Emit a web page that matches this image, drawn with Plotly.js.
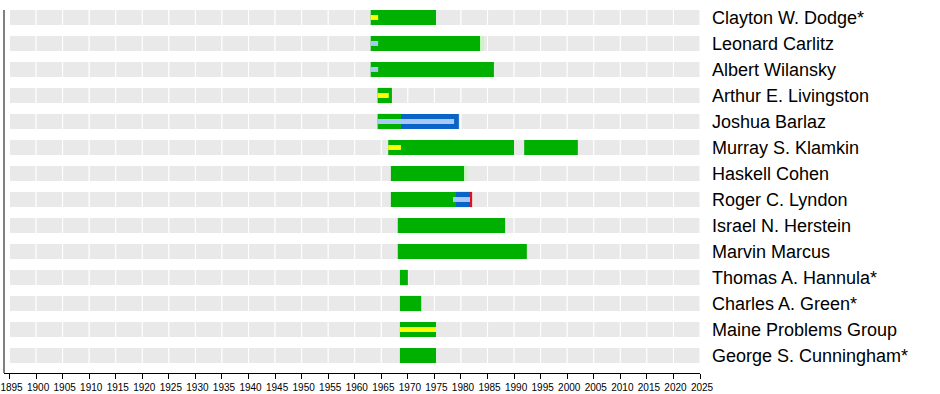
<!DOCTYPE html>
<html>
<head>
<meta charset="utf-8">
<script src="https://cdn.plot.ly/plotly-3.0.1.min.js"></script>
<style>
html,body{margin:0;padding:0;background:#fff;}
#chart{width:940px;height:394px;}
</style>
</head>
<body>
<div id="chart"></div>
<script>
// Row labels (top to bottom)
var names = ["Clayton W. Dodge*","Leonard Carlitz","Albert Wilansky","Arthur E. Livingston","Joshua Barlaz","Murray S. Klamkin","Haskell Cohen","Roger C. Lyndon","Israel N. Herstein","Marvin Marcus","Thomas A. Hannula*","Charles A. Green*","Maine Problems Group","George S. Cunningham*"];

// Axis ticks / background grid years
var tickYears = [1895,1900,1905,1910,1915,1920,1925,1930,1935,1940,1945,1950,1955,1960,1965,1970,1975,1980,1985,1990,1995,2000,2005,2010,2015,2020,2025];

// Full-height green segments
var greenName  = ["Clayton W. Dodge*","Leonard Carlitz","Albert Wilansky","Arthur E. Livingston","Joshua Barlaz","Murray S. Klamkin","Murray S. Klamkin","Haskell Cohen","Roger C. Lyndon","Israel N. Herstein","Marvin Marcus","Thomas A. Hannula*","Charles A. Green*","Maine Problems Group","George S. Cunningham*"];
var greenStart = [1963.0,1963.0,1963.0,1964.3,1964.3,1966.3,1991.9,1966.8,1966.8,1968.1,1968.1,1968.5,1968.5,1968.5,1968.5];
var greenEnd   = [1975.3,1983.6,1986.2,1967.0,1968.7,1990.0,2002.0,1980.6,1978.9,1988.3,1992.4,1970.0,1972.5,1975.3,1975.3];

// Full-height blue segments
var blueName  = ["Joshua Barlaz","Roger C. Lyndon"];
var blueStart = [1968.7,1978.9];
var blueEnd   = [1979.6,1981.7];

// Full-height red segments
var redName  = ["Roger C. Lyndon"];
var redStart = [1981.7];
var redEnd   = [1982.1];

// Pale green segments
var paleName  = ["Leonard Carlitz","Haskell Cohen"];
var paleStart = [1983.6,1980.6];
var paleEnd   = [1984.3,1981.2];

// Thin yellow stripes
var yellowName  = ["Clayton W. Dodge*","Arthur E. Livingston","Murray S. Klamkin","Maine Problems Group"];
var yellowStart = [1963.0,1964.3,1966.3,1968.5];
var yellowEnd   = [1964.4,1966.4,1968.7,1975.3];

// Thin light-blue stripes
var lblueName  = ["Leonard Carlitz","Albert Wilansky","Joshua Barlaz","Roger C. Lyndon"];
var lblueStart = [1963.0,1963.0,1964.3,1978.5];
var lblueEnd   = [1964.4,1964.4,1978.7,1981.7];

function diff(a,b){return b.map(function(v,i){return v-a[i];});}

function segTrace(ny, s, e, color, w){
  return {
    type:'bar', orientation:'h', y:ny, base:s, x:diff(s,e),
    width:w, marker:{color:color, line:{width:0}}, hoverinfo:'skip', showlegend:false
  };
}

// background gray cells
var cellY=[], cellBase=[], cellLen=[];
names.forEach(function(n){
  for(var i=0;i<tickYears.length-1;i++){
    cellY.push(n); cellBase.push(tickYears[i]); cellLen.push(tickYears[i+1]-tickYears[i]);
  }
});
var grayTrace = {
  type:'bar', orientation:'h', y:cellY, base:cellBase, x:cellLen, width:0.62,
  marker:{color:'#e9e9e9', line:{color:'#ffffff', width:1}}, hoverinfo:'skip', showlegend:false
};

var FULL = 0.585, THIN = 0.19;
var data = [
  grayTrace,
  segTrace(greenName, greenStart, greenEnd, '#00b000', FULL),
  segTrace(blueName, blueStart, blueEnd, '#0a64c8', FULL),
  segTrace(redName, redStart, redEnd, '#e01020', FULL),
  segTrace(paleName, paleStart, paleEnd, '#c8f5c0', FULL),
  segTrace(yellowName, yellowStart, yellowEnd, '#ffff00', THIN),
  segTrace(lblueName, lblueStart, lblueEnd, '#a8c8f8', THIN)
];

var layout = {
  width:940, height:394,
  margin:{l:4, r:240, t:10, b:21, pad:0},
  paper_bgcolor:'#ffffff', plot_bgcolor:'#ffffff',
  barmode:'overlay',
  font:{family:'"Liberation Sans", Arial, sans-serif', color:'#000'},
  xaxis:{
    range:[1893.96, 2025], tickmode:'array', tickvals:tickYears, ticktext:tickYears.map(String),
    ticks:'outside', ticklen:5, tickcolor:'#000', tickwidth:1,
    showline:true, linecolor:'#000', linewidth:1, mirror:false,
    showgrid:false, zeroline:false, fixedrange:true,
    ticklabeloverflow:'allow', ticklabelshift:2,
    tickfont:{size:10, color:'#000'}
  },
  yaxis:{
    type:'category', categoryorder:'array', categoryarray:names,
    range:[13.673, -0.288], side:'right',
    showline:false, ticks:'', showgrid:false, zeroline:false, fixedrange:true,
    ticklabelstandoff:11,
    tickfont:{size:18, color:'#000'}
  },
  shapes:[{type:'line', xref:'paper', yref:'paper', x0:0, x1:0, y0:0, y1:1, line:{color:'#000', width:1}}]
};

Plotly.newPlot('chart', data, layout, {displayModeBar:false, staticPlot:true});
</script>
</body>
</html>
